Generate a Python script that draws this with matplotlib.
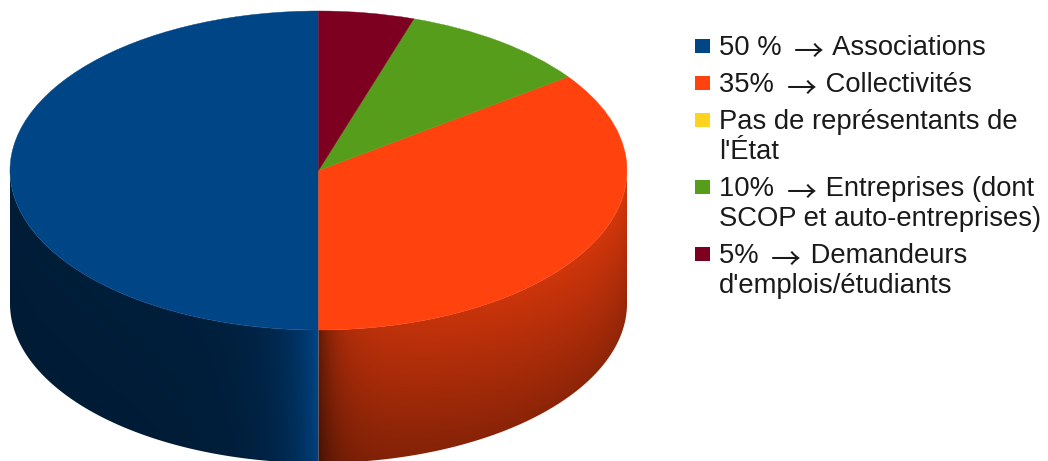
import numpy as np
import matplotlib
matplotlib.use('Agg')
import matplotlib.pyplot as plt
from matplotlib.patches import Wedge, Polygon, Rectangle
from matplotlib.transforms import Affine2D

# données (ordre de la légende)
labels = ['50 % → Associations',
          '35% → Collectivités',
          'Pas de représentants de\nl\'État',
          '10% → Entreprises (dont\nSCOP et auto-entreprises)',
          '5% → Demandeurs\nd\'emplois/étudiants']
values = [50, 35, 0, 10, 5]
colors = ['#004586', '#ff420e', '#ffd320', '#579d1c', '#7e0021']

# géométrie du camembert 3D (en pixels)
W, H = 1048, 461
cx, cy = 318.5, 170.5
rx, ry = 308.5, 159.5
depth = 133

plt.rcParams['font.family'] = ['Liberation Sans', 'DejaVu Sans']
fig = plt.figure(figsize=(W / 100, H / 100), dpi=100)
ax = fig.add_axes([0, 0, 1, 1])
ax.set_xlim(0, W)
ax.set_ylim(H, 0)
ax.axis('off')

# angles : départ en haut, sens antihoraire (comme LibreOffice)
fracs = np.array(values, dtype=float) / sum(values)
starts = 90 + 360 * np.concatenate([[0], np.cumsum(fracs)[:-1]])
ends = starts + 360 * fracs

# carte de l'ombrage des flancs
X, Y = np.meshgrid(np.arange(W) + 0.5, np.arange(H) + 0.5)
u = np.clip((X - cx) / rx, -1, 1)
ytop = cy + ry * np.sqrt(1 - u ** 2)
t = np.clip((Y - ytop) / depth, 0, 1)


def shade(i):
    if i == 0:
        d = np.clip(cx - X, 0, None)
        f = 0.42 + 0.55 * np.exp(-d / 30) + 0.06 * np.exp(-d / 120)
        f = f * (1 - 0.08 * t)
    else:
        d = np.clip(X - cx, 0, None)
        f = 0.80 - 0.38 * np.exp(-d / 18)
        f = f * (1 - 0.32 * t) * (0.92 + 0.12 * (X - cx) / rx)
    rgb = np.array(matplotlib.colors.to_rgb(colors[i]))
    return np.clip(f[..., None] * rgb[None, None, :], 0, 1)


def ell(phi, dy=0):
    p = np.radians(phi)
    return np.column_stack([cx + rx * np.cos(p), cy - ry * np.sin(p) + dy])


# flancs visibles (moitié avant : 180..360 degrés)
for i in range(len(values)):
    if fracs[i] == 0:
        continue
    a, b = starts[i], ends[i]
    for k in (0, 360):
        lo, hi = max(a, 180 + k), min(b, 360 + k)
        if hi <= lo:
            continue
        phi = np.linspace(lo, hi, 200)
        pts = np.vstack([ell(phi), ell(phi[::-1], depth)])
        poly = Polygon(pts, closed=True, facecolor='none', edgecolor='none')
        ax.add_patch(poly)
        im = ax.imshow(shade(i), extent=(0, W, H, 0), origin='upper',
                       interpolation='bilinear', zorder=1)
        im.set_clip_path(poly)

# dessus du camembert
tr = Affine2D().scale(rx, -ry).translate(cx, cy) + ax.transData
for i in range(len(values)):
    if fracs[i] == 0:
        continue
    w = Wedge((0, 0), 1, starts[i], ends[i], facecolor=colors[i],
              edgecolor=colors[i], linewidth=0.3, transform=tr, zorder=2)
    ax.add_patch(w)

ax.set_xlim(0, W)
ax.set_ylim(H, 0)

# légende (flèche fine, police CJK, un peu basse)
fs = 19.7
txt_col = '#1a1a1a'
renderer = fig.canvas.get_renderer()


def put_line(x, y, line):
    parts = line.split('→')
    for j, part in enumerate(parts):
        if j > 0:
            x += 5
            a = ax.text(x, y + 6.5, '→', fontsize=21.5, color=txt_col,
                        family=['Noto Sans CJK JP', 'DejaVu Sans'],
                        va='baseline', ha='left')
            x += a.get_window_extent(renderer).width + 2
        if part:
            tx = ax.text(x, y, part, fontsize=fs, color=txt_col,
                         va='baseline', ha='left')
            x += tx.get_window_extent(renderer).width


y = 55
for lab, col in zip(labels, colors):
    ax.add_patch(Rectangle((695, y - 16), 15, 14, facecolor=col,
                           edgecolor='none', zorder=3))
    for n, line in enumerate(lab.split('\n')):
        put_line(719, y + 30 * n, line)
    y += 37 + 30 * lab.count('\n')

fig.savefig('out.png', dpi=100)
